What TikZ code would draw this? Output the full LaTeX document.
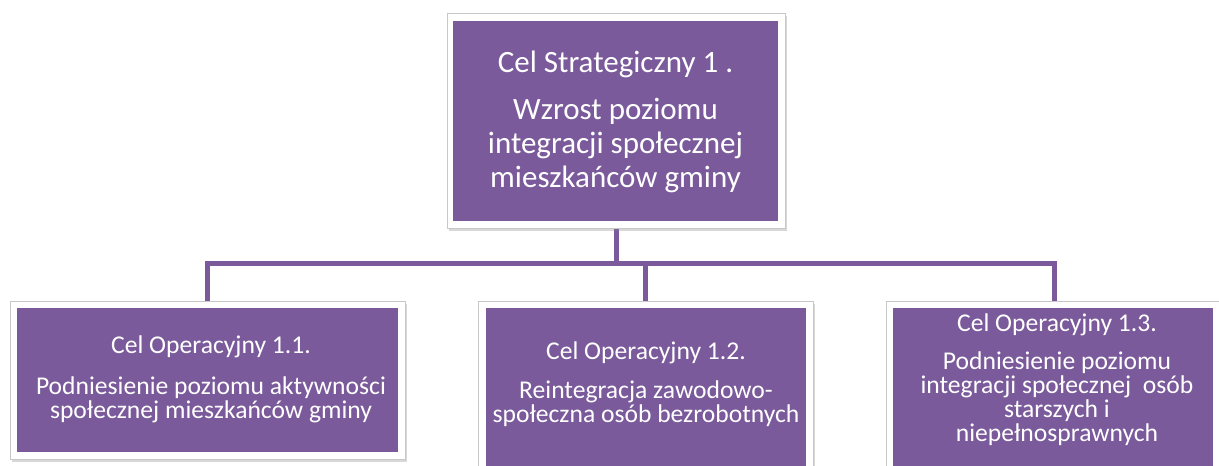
\documentclass[tikz,border=0pt]{standalone}
\usepackage{fontspec}
\setmainfont{Carlito}
\usetikzlibrary{shadows}
\definecolor{purp}{HTML}{7A5A9B}
\begin{document}
\begin{tikzpicture}[x=1pt,y=-1pt,
  frame/.style={draw=black!22, line width=0.6pt, fill=white, inner sep=0pt,
    drop shadow={shadow xshift=2pt, shadow yshift=-3pt, opacity=0.3}},
  inbox/.style={fill=purp, inner sep=0pt},
  conn/.style={draw=purp, line width=5pt,
    preaction={draw=black, opacity=0.2, transform canvas={shift={(1pt,-2pt)}}}},
  txt/.style={text=white, align=center, inner sep=0pt},
  bigtxt/.style={txt, font=\fontsize{31}{34}\selectfont},
  smalltxt/.style={txt, font=\fontsize{25.6}{24}\selectfont}]
\useasboundingbox (0,0) rectangle (1219,466);
\fill[white] (0,0) rectangle (1219,466);

% frames (positions only, drawn later on top of connectors)
\path (616,120.5) node[minimum width=338pt, minimum height=215pt, inner sep=0pt] (top) {};
\path (207.5,380) node[minimum width=395pt, minimum height=158pt, inner sep=0pt] (c1) {};
\path (645.5,390.5) node[minimum width=335pt, minimum height=179pt, inner sep=0pt] (c2) {};
\path (1054,390.5) node[minimum width=336pt, minimum height=179pt, inner sep=0pt] (c3) {};

\coordinate (bar) at (0,263);
\draw[conn] (top.south) -- (top.south |- bar);
\draw[conn] (c1.north) |- (c3.north |- bar) -- (c3.north);
\draw[conn] (c2.north |- bar) -- (c2.north);

% top box
\node[frame, minimum width=338pt, minimum height=215pt] (topf) at (top) {};
\node[inbox, minimum width=325pt, minimum height=200pt] (topin) at (615.5,121) {};
\node[bigtxt] (toptxt) at (615.5,122) {Cel Strategiczny 1 .\\[13pt]Wzrost poziomu\\integracji społecznej\\mieszkańców gminy};

% child 1
\node[frame, minimum width=395pt, minimum height=158pt] (c1f) at (c1) {};
\node[inbox, minimum width=381pt, minimum height=144pt] (c1in) at (207.5,380) {};
\node[smalltxt] (c1txt) at (211,379) {Cel Operacyjny 1.1.\\[17pt]Podniesienie poziomu aktywności\\społecznej mieszkańców gminy};

% child 2
\node[frame, minimum width=335pt, minimum height=179pt] (c2f) at (c2) {};
\node[inbox, minimum width=320pt, minimum height=172pt] (c2in) at (646,394) {};
\node[smalltxt] (c2txt) at (646,384) {Cel Operacyjny 1.2.\\[15pt]Reintegracja zawodowo-\\społeczna osób bezrobotnych};

% child 3
\node[frame, minimum width=336pt, minimum height=179pt] (c3f) at (c3) {};
\node[inbox, minimum width=320pt, minimum height=172pt] (c3in) at (1053,394) {};
\node[smalltxt, anchor=north] (c3txt) at (1057,314) {Cel Operacyjny 1.3.\\[14pt]Podniesienie poziomu\\integracji społecznej\ \ osób\\starszych i\\niepełnosprawnych};
\end{tikzpicture}
\end{document}
